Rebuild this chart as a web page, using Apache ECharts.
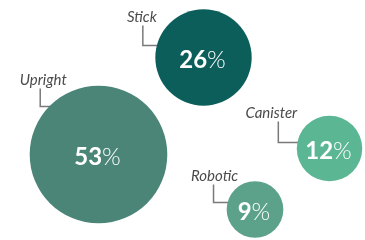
<!DOCTYPE html>
<html>
<head>
<meta charset="utf-8">
<script src="https://cdn.jsdelivr.net/npm/echarts@6/dist/echarts.min.js"></script>
<style>
  html, body { margin: 0; padding: 0; background: #fff; }
  #chart { width: 365px; height: 240px; }
</style>
</head>
<body>
<div id="chart"></div>
<script>
// vacuum types, share of sales (%)
const names = ['Upright', 'Stick', 'Canister', 'Robotic']
const shares = [53, 26, 12, 9]
// bubble placement in chart space
const posX = [98.5, 203.5, 329.5, 255]
const posY = [154.5, 57.5, 148.5, 209.5]

const colors = ['#4b8577', '#0c5e5b', '#5bb694', '#5ca28b']
// callout look: offset of the elbow from the centre, elbow lengths, text nudge
const callouts = [
  { dy: -48, len: 10, up: 18, tx: 3 },
  { dy: -12, len: 15, up: 20, tx: -1 },
  { dy: -6, len: 20, up: 21, tx: -7 },
  { dy: -7, len: 15, up: 18, tx: 1 }
]

const sizeK = 18.9 // diameter per sqrt(share)
const diam = v => sizeK * Math.sqrt(v)

const points = names.map((n, i) => ({
  name: n,
  value: [posX[i], posY[i], shares[i]],
  itemStyle: { color: colors[i], opacity: 1 }
}))

const chart = echarts.init(document.getElementById('chart'))

chart.setOption({
  animation: false,
  grid: { left: 0, right: 0, top: 0, bottom: 0 },
  xAxis: { type: 'value', min: 0, max: 365, show: false },
  yAxis: { type: 'value', min: 0, max: 240, inverse: true, show: false },
  series: [
    {
      type: 'custom',
      silent: true,
      data: points.map((p, i) => p.value.concat([i])),
      renderItem: (params, api) => {
        const i = api.value(3)
        const c = api.coord([api.value(0), api.value(1)])
        const r = diam(api.value(2)) / 2
        const cfg = callouts[i]
        const ey = c[1] + cfg.dy
        const ex = c[0] - Math.sqrt(r * r - cfg.dy * cfg.dy) + 1
        const vx = ex - cfg.len
        const ty = ey - cfg.up
        return {
          type: 'group',
          children: [
            {
              type: 'polyline',
              shape: { points: [[ex, ey], [vx, ey], [vx, ty]] },
              style: { stroke: '#7a7a7a', lineWidth: 1.5, fill: null }
            },
            {
              type: 'text',
              x: vx + cfg.tx,
              y: ty - 1,
              style: {
                text: names[i],
                fill: '#4a4a4a',
                font: 'italic 15px Lato',
                align: 'center',
                verticalAlign: 'bottom'
              }
            }
          ]
        }
      }
    },
    {
      type: 'scatter',
      data: points,
      symbolSize: v => diam(v[2]),
      emphasis: { disabled: true },
      label: {
        show: true,
        position: 'inside',
        offset: [-1, 3],
        formatter: p => '{n|' + p.value[2] + '}{p|%}',
        rich: {
          n: { color: '#fff', fontFamily: 'Lato', fontWeight: 'bold', fontSize: 24 },
          p: { color: '#fff', fontFamily: 'Lato', fontWeight: 300, fontSize: 24 }
        }
      }
    }
  ]
})
</script>
</body>
</html>
